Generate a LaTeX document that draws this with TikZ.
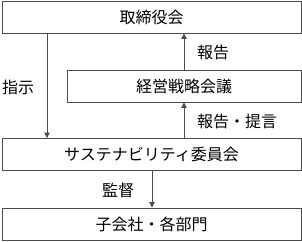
\documentclass[tikz,border=0pt]{standalone}
\usepackage{fontspec}
\setmainfont{Noto Sans CJK JP}
\usetikzlibrary{arrows.meta,positioning}

\begin{document}
\begin{tikzpicture}[x=1pt, y=-1pt,
  box/.style={draw=black!70, line width=0.9pt, minimum height=32pt,
              inner sep=0pt, font=\fontsize{16}{18}\selectfont},
  lbl/.style={font=\fontsize{16}{18}\selectfont, inner sep=0pt},
  arr/.style={-{Triangle[length=5.5pt, width=5.5pt]}, draw=black!70, line width=0.9pt}
]
\useasboundingbox (0,0) rectangle (302,241);

\node[box, minimum width=299pt] (board) at (151.5,17) {取締役会};
\node[box, minimum width=234pt] (mgmt)  at (184,86)   {経営戦略会議};
\node[box, minimum width=299pt] (sus)   at (151.5,154.5) {サステナビリティ委員会};
\node[box, minimum width=299pt] (sub)   at (151.5,224) {子会社・各部門};

\draw[arr] (board.south -| 47,0) -- (sus.north -| 47,0);
\draw[arr] (mgmt.north -| 184,0) -- (board.south -| 184,0);
\draw[arr] (sus.north -| 184,0) -- (mgmt.south -| 184,0);
\draw[arr] (sus.south -| 152,0) -- (sub.north -| 152,0);

\node[lbl] (shiji)  at (18,87)   {指示};
\node[lbl] (hokoku) at (213,52)  {報告};
\node[lbl] (teigen) at (237,121) {報告・提言};
\node[lbl] (kantoku) at (118,190) {監督};
\end{tikzpicture}
\end{document}
